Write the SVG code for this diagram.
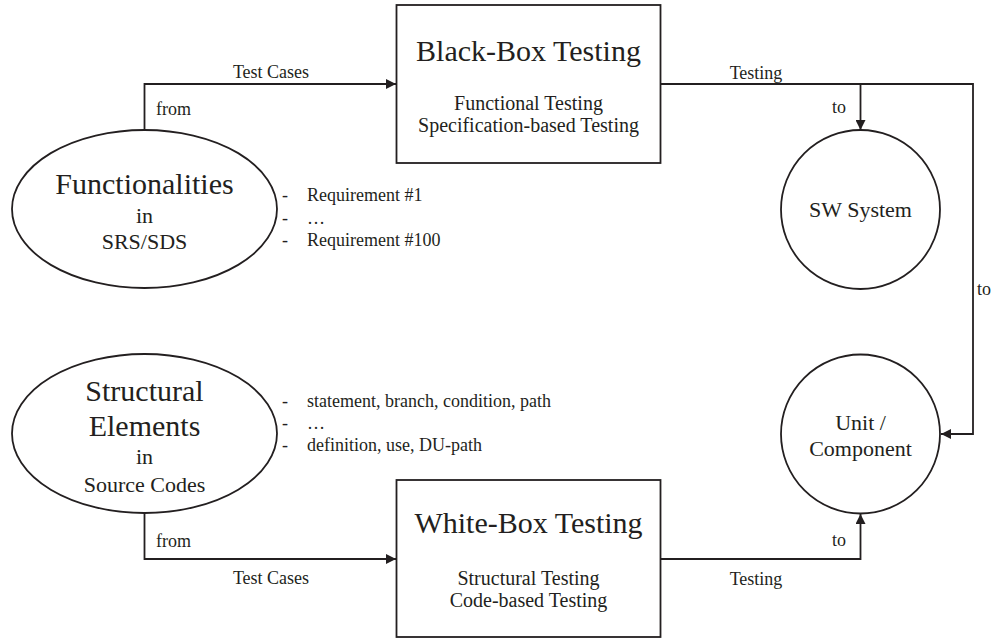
<svg xmlns="http://www.w3.org/2000/svg" width="992" height="640" viewBox="0 0 992 640" font-family="'Liberation Serif', 'Times New Roman', Times, serif">
<defs>
<style>
text{font-family:'Liberation Serif','Times New Roman',Times,serif;fill:#231f20}
.big{font-size:30px}
.mid{font-size:22px}
.sub{font-size:20px}
.sm{font-size:18px}
.c{text-anchor:middle}
.shape{fill:#fff;stroke:#231f20;stroke-width:1.8}
.conn{fill:none;stroke:#231f20;stroke-width:1.8}
</style>
<marker id="arr" viewBox="0 0 10 10" refX="10" refY="5" markerWidth="10" markerHeight="10" markerUnits="userSpaceOnUse" orient="auto">
<path d="M0,0 L10,5 L0,10 z" fill="#231f20"/>
</marker>
</defs>
<rect width="992" height="640" fill="#fff"/>

<g id="connectors">
<polyline class="conn" points="144.5,130 144.5,84 396,84" marker-end="url(#arr)"/>
<polyline class="conn" points="661,84 973,84 973,434 941,434" marker-end="url(#arr)"/>
<line class="conn" x1="860.5" y1="84" x2="860.5" y2="130" marker-end="url(#arr)"/>
<polyline class="conn" points="144.5,513 144.5,559 396,559" marker-end="url(#arr)"/>
<polyline class="conn" points="661,559 860.5,559 860.5,514" marker-end="url(#arr)"/>
<text class="sm c" x="271" y="78">Test Cases</text>
<text class="sm" x="156" y="115">from</text>
<text class="sm c" x="756" y="79">Testing</text>
<text class="sm" x="832" y="113">to</text>
<text class="sm" x="977" y="295">to</text>
<text class="sm" x="156" y="547">from</text>
<text class="sm c" x="271" y="584">Test Cases</text>
<text class="sm" x="832" y="546">to</text>
<text class="sm c" x="756" y="585">Testing</text>
</g>

<g id="black-box">
<rect class="shape" x="396.5" y="5" width="264" height="158"/>
<text class="big c" x="528.5" y="61">Black-Box Testing</text>
<text class="sub c" x="528.5" y="110">Functional Testing</text>
<text class="sub c" x="528.5" y="132">Specification-based Testing</text>
</g>

<g id="white-box">
<rect class="shape" x="396.5" y="480" width="264" height="157"/>
<text class="big c" x="528.5" y="533">White-Box Testing</text>
<text class="sub c" x="528.5" y="585">Structural Testing</text>
<text class="sub c" x="528.5" y="607">Code-based Testing</text>
</g>

<g id="functionalities">
<ellipse class="shape" cx="144.5" cy="209" rx="132.5" ry="79"/>
<text class="big c" x="144.5" y="194">Functionalities</text>
<text class="mid c" x="144.5" y="223">in</text>
<text class="mid c" x="144.5" y="249">SRS/SDS</text>
</g>

<g id="requirements">
<text class="sm" x="282" y="201">-</text>
<text class="sm" x="307" y="201">Requirement #1</text>
<text class="sm" x="282" y="224">-</text>
<text class="sm" x="307" y="224">…</text>
<text class="sm" x="282" y="246">-</text>
<text class="sm" x="307" y="246">Requirement #100</text>
</g>

<g id="structural-elements">
<ellipse class="shape" cx="144.5" cy="433.5" rx="132.5" ry="79.5"/>
<text class="big c" x="144.5" y="401">Structural</text>
<text class="big c" x="144.5" y="436">Elements</text>
<text class="mid c" x="144.5" y="464">in</text>
<text class="mid c" x="144.5" y="492">Source Codes</text>
</g>

<g id="coverage-items">
<text class="sm" x="282" y="407">-</text>
<text class="sm" x="307" y="407">statement, branch, condition, path</text>
<text class="sm" x="282" y="429">-</text>
<text class="sm" x="307" y="429">…</text>
<text class="sm" x="282" y="451">-</text>
<text class="sm" x="307" y="451">definition, use, DU-path</text>
</g>

<g id="sw-system">
<circle class="shape" cx="860.5" cy="209.5" r="79.5"/>
<text class="mid c" x="860.5" y="217">SW System</text>
</g>

<g id="unit-component">
<circle class="shape" cx="860.5" cy="434" r="79.5"/>
<text class="mid c" x="860.5" y="430">Unit /</text>
<text class="mid c" x="860.5" y="456">Component</text>
</g>
</svg>
